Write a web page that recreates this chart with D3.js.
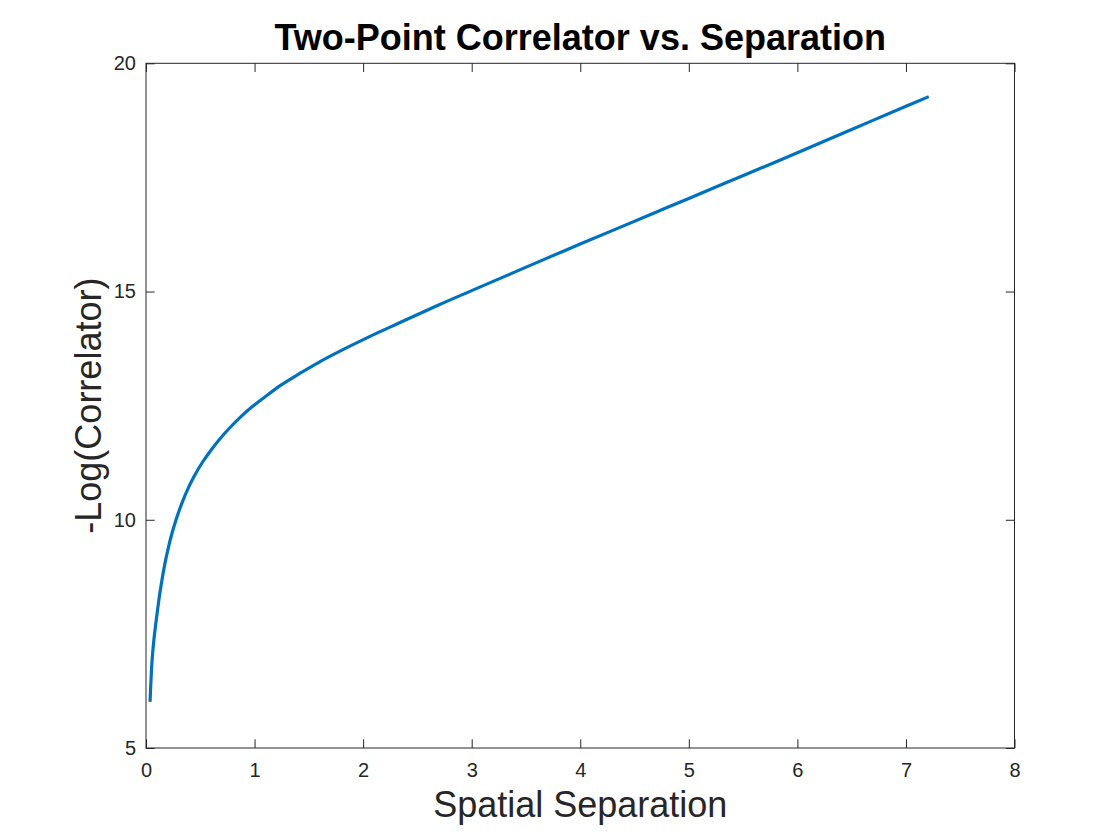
<!DOCTYPE html>
<html>
<head>
<meta charset="utf-8">
<script src="https://cdn.jsdelivr.net/npm/d3@7"></script>
<style>
  body { margin: 0; background: #fff; }
  svg { display: block; font-family: "Liberation Sans", Arial, Helvetica, sans-serif; }
  .axis text { fill: #262626; font-size: 20px; }
  .axis line { stroke: #262626; }
  .axis path { display: none; }
</style>
</head>
<body>
<svg id="chart"></svg>
<script>
// values
var separation = [0.037, 0.046, 0.054, 0.062, 0.075, 0.09, 0.104, 0.125, 0.147, 0.175, 0.205, 0.24, 0.274,
    0.33, 0.39, 0.45, 0.52, 0.6, 0.68, 0.77, 0.87, 0.98, 1.1, 1.25, 1.42, 1.6, 1.8, 2.03, 2.34, 2.7,
    3.0, 3.4, 3.85, 4.3, 4.67, 5.0, 5.53, 6.0, 6.5, 7.0, 7.21];
var negLogCorr = [6.01, 6.49, 6.85, 7.1, 7.42, 7.72, 7.98, 8.35, 8.68, 9.05, 9.38, 9.71, 9.98,
    10.36, 10.7, 10.98, 11.26, 11.53, 11.77, 12.01, 12.25, 12.48, 12.7, 12.96, 13.21, 13.46, 13.71, 13.98, 14.32, 14.71,
    15.02, 15.43, 15.89, 16.34, 16.71, 17.04, 17.57, 18.04, 18.55, 19.06, 19.27];
var xTicks = [0, 1, 2, 3, 4, 5, 6, 7, 8];
var yTicks = [5, 10, 15, 20];

var width = 1120, height = 840;
var margin = { "left": 146, "right": 105.5, "top": 63.3, "bottom": 92 };
var w = width - margin.left - margin.right;
var h = height - margin.top - margin.bottom;
var tickLen = 8.7;

var svg = d3.select("#chart")
    .attr("width", width)
    .attr("height", height);

var g = svg.append("g")
    .attr("transform", "translate(" + margin.left + "," + margin.top + ")");

var x = d3.scaleLinear().domain([0, 8]).range([0, w]);
var y = d3.scaleLinear().domain([5, 20]).range([h, 0]);

// axes with inward ticks
g.append("g")
    .attr("class", "axis")
    .attr("transform", "translate(0," + h + ")")
    .call(d3.axisBottom(x).tickValues(xTicks).tickSizeInner(-tickLen).tickSizeOuter(0).tickPadding(15));

g.append("g")
    .attr("class", "axis")
    .call(d3.axisLeft(y).tickValues(yTicks).tickSizeInner(-tickLen).tickSizeOuter(0).tickPadding(10));

g.append("g")
    .attr("class", "axis")
    .call(d3.axisTop(x).tickValues(xTicks).tickSizeInner(-tickLen).tickSizeOuter(0).tickFormat(""));

g.append("g")
    .attr("class", "axis")
    .attr("transform", "translate(" + w + ",0)")
    .call(d3.axisRight(y).tickValues(yTicks).tickSizeInner(-tickLen).tickSizeOuter(0).tickFormat(""));

// box
g.append("rect")
    .attr("width", w)
    .attr("height", h)
    .attr("fill", "none")
    .attr("stroke", "#262626")
    .attr("stroke-width", 1);

// curve
var pts = separation.map((d, i) => [d, negLogCorr[i]]);
var lineFn = d3.line()
    .x(d => x(d[0]))
    .y(d => y(d[1]))
    .curve(d3.curveCatmullRom.alpha(0.5));

g.append("path")
    .attr("d", lineFn(pts))
    .attr("fill", "none")
    .attr("stroke", "#0072BD")
    .attr("stroke-width", 3.2)
    .attr("stroke-linecap", "butt")
    .attr("stroke-linejoin", "round");

// title and labels
svg.append("text")
    .attr("x", margin.left + w / 2)
    .attr("y", 50)
    .attr("text-anchor", "middle")
    .style("font-size", "36px")
    .style("font-weight", "bold")
    .style("fill", "#000")
    .text("Two-Point Correlator vs. Separation");

svg.append("text")
    .attr("x", margin.left + w / 2)
    .attr("y", 817)
    .attr("text-anchor", "middle")
    .style("font-size", "36px")
    .style("fill", "#262626")
    .text("Spatial Separation");

svg.append("text")
    .attr("transform", "translate(101," + (margin.top + h / 2) + ") rotate(-90)")
    .attr("text-anchor", "middle")
    .style("font-size", "36px")
    .style("fill", "#262626")
    .text("-Log(Correlator)");
</script>
</body>
</html>
